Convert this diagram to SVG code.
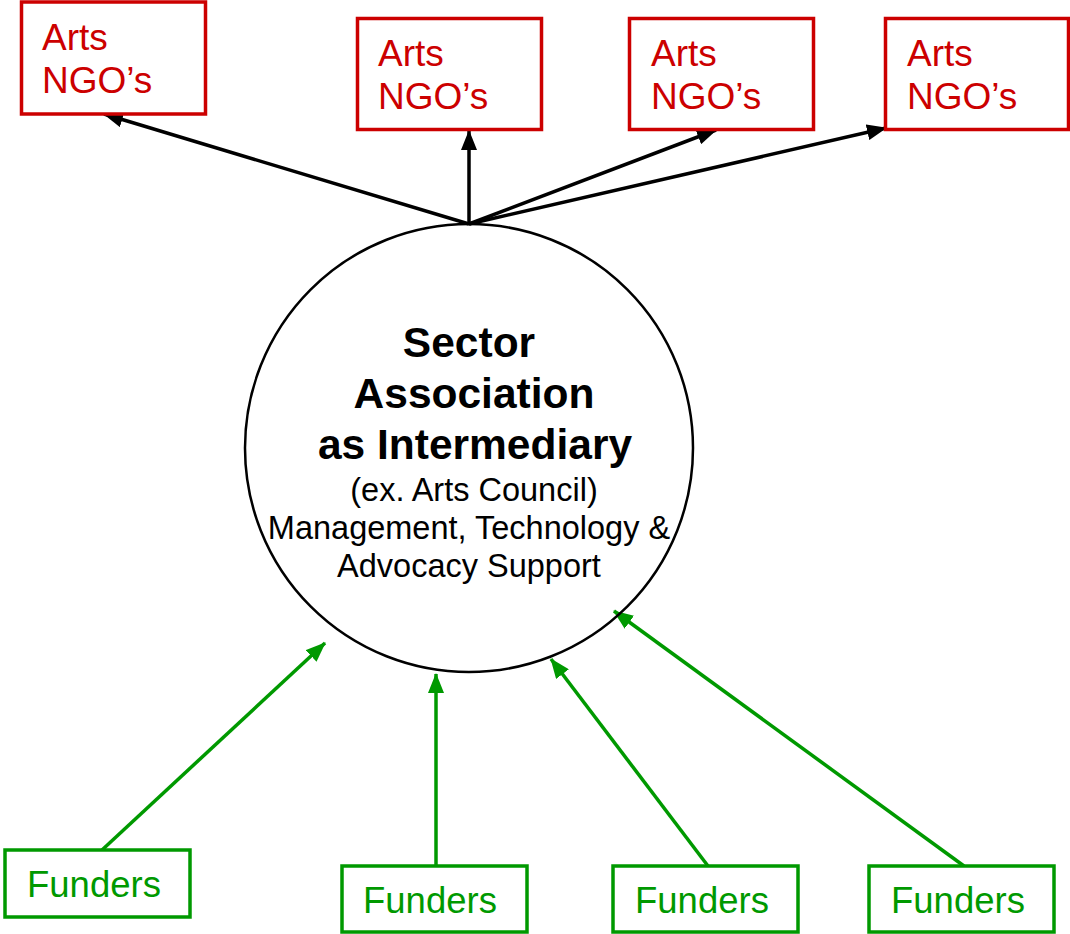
<svg xmlns="http://www.w3.org/2000/svg" width="1070" height="934" viewBox="0 0 1070 934">
<style>
.ngo rect{fill:#fff;stroke:#CC0000;stroke-width:3.5}
.ngo text{fill:#CC0000;font-family:"Liberation Sans",Arial,sans-serif;font-size:37px}
.fund rect{fill:#fff;stroke:#009900;stroke-width:3.5}
.fund text{fill:#009900;font-family:"Liberation Sans",Arial,sans-serif;font-size:36.5px}
.blk{stroke:#000;stroke-width:3.5;fill:none;marker-end:url(#ab)}
.grn{stroke:#009900;stroke-width:3.5;fill:none;marker-end:url(#ag)}
.ct{font-family:"Liberation Sans",Arial,sans-serif;text-anchor:middle;fill:#000}
.b{font-weight:bold;font-size:42.5px}
.r{font-size:32.5px}
</style>
<defs>
<marker id="ab" markerUnits="userSpaceOnUse" markerWidth="20" markerHeight="16" viewBox="0 0 20 16" refX="19" refY="8" orient="auto"><path d="M0,0 L20,8 L0,16 Z" fill="#000"/></marker>
<marker id="ag" markerUnits="userSpaceOnUse" markerWidth="20" markerHeight="16" viewBox="0 0 20 16" refX="19" refY="8" orient="auto"><path d="M0,0 L20,8 L0,16 Z" fill="#009900"/></marker>
</defs>
<rect width="1070" height="934" fill="#fff"/>
<g id="connectors">
<line class="blk" x1="469" y1="224" x2="104" y2="114"/>
<line class="blk" x1="469" y1="224" x2="469" y2="131"/>
<line class="blk" x1="469" y1="224" x2="716" y2="130"/>
<line class="blk" x1="469" y1="224" x2="886" y2="128"/>
<line class="grn" x1="102" y1="850" x2="325" y2="643"/>
<line class="grn" x1="436" y1="866" x2="436" y2="674"/>
<line class="grn" x1="708" y1="866" x2="551" y2="659"/>
<line class="grn" x1="964" y1="866" x2="614" y2="611"/>
</g>
<g id="center">
<circle cx="469" cy="448" r="224" fill="none" stroke="#000" stroke-width="2.5"/>
<text class="ct b" x="469" y="357">Sector</text>
<text class="ct b" x="474" y="408">Association</text>
<text class="ct b" x="475" y="459">as Intermediary</text>
<text class="ct r" x="474" y="501">(ex. Arts Council)</text>
<text class="ct r" x="469" y="539">Management, Technology &amp;</text>
<text class="ct r" x="469" y="577">Advocacy Support</text>
</g>
<g id="ngo1" class="ngo"><rect x="21.5" y="2" width="184" height="112"/><text x="42" y="50">Arts</text><text x="42" y="93">NGO’s</text></g>
<g id="ngo2" class="ngo"><rect x="357.5" y="18.5" width="184" height="111"/><text x="378" y="66">Arts</text><text x="378" y="109">NGO’s</text></g>
<g id="ngo3" class="ngo"><rect x="629.5" y="18.5" width="184" height="111"/><text x="651" y="66">Arts</text><text x="651" y="109">NGO’s</text></g>
<g id="ngo4" class="ngo"><rect x="885.5" y="18.5" width="183" height="111"/><text x="907" y="66">Arts</text><text x="907" y="109">NGO’s</text></g>
<g id="fund1" class="fund"><rect x="5" y="850" width="185" height="67"/><text x="27" y="897">Funders</text></g>
<g id="fund2" class="fund"><rect x="342" y="866" width="185" height="66"/><text x="363" y="913">Funders</text></g>
<g id="fund3" class="fund"><rect x="613" y="866" width="185" height="66"/><text x="635" y="913">Funders</text></g>
<g id="fund4" class="fund"><rect x="869" y="866" width="185" height="66"/><text x="891" y="913">Funders</text></g>
</svg>
